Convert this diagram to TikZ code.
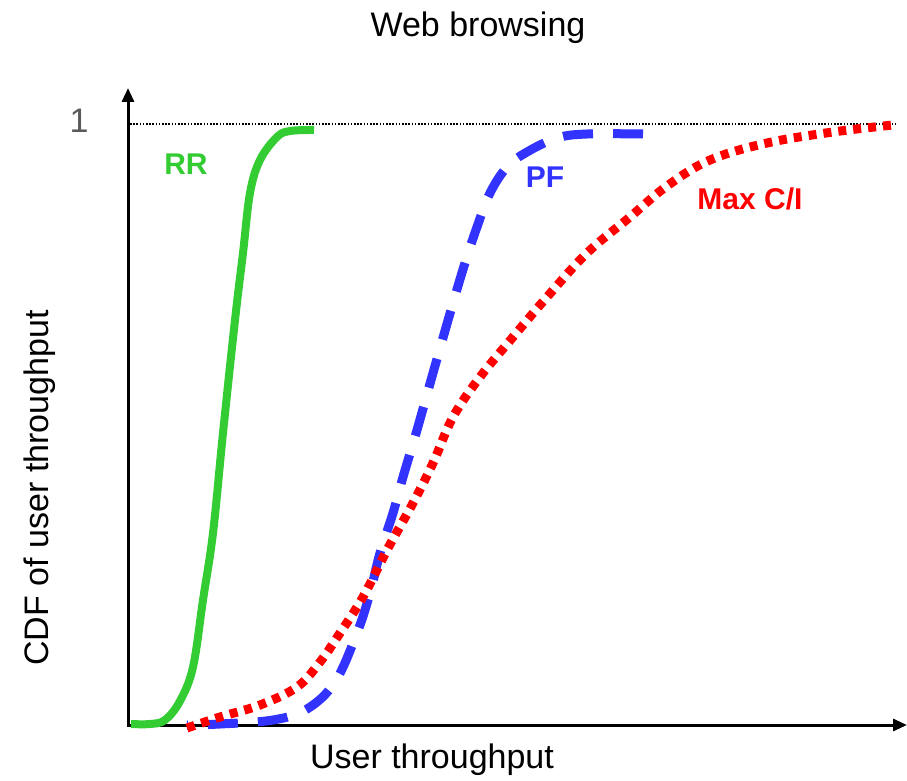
\documentclass[tikz,border=0pt]{standalone}
\usepackage{fontspec}
\setmainfont{Liberation Sans}
\usepackage{tikz}
\usetikzlibrary{arrows.meta,positioning}
\definecolor{rrgreen}{RGB}{51,204,51}
\definecolor{pfblue}{RGB}{51,51,255}
\definecolor{maxred}{RGB}{255,0,0}
\definecolor{tickgray}{RGB}{90,90,90}

\begin{document}
\begin{tikzpicture}[
		x=1pt, y=-1pt,
		>={Triangle[length=14pt,width=12pt]},
		font=\normalfont,
		axis/.style={
			line width=3pt,
			->
		},
		title/.style={
			font=\fontsize{34}{40}\selectfont,
			inner sep=0pt
		},
		curvename/.style={
			font=\fontsize{30}{36}\selectfont\bfseries,
			inner sep=0pt
		},
		rrline/.style={
			rrgreen, line width=8pt
		},
		pfline/.style={
			pfblue, line width=9pt, dash pattern=on 30pt off 20pt
		},
		maxline/.style={
			maxred, line width=9pt, dash pattern=on 8pt off 7pt
		}
		]
		\useasboundingbox (0,0) rectangle (907,781);
		
		% axes
		\coordinate (origin) at (128,725);
		\coordinate (ytop) at (128,88);
		\coordinate (xend) at (907,725);
		\coordinate (onestart) at (130,124);
		\coordinate (oneend) at (895,124);
		\draw [axis] ([xshift=-1.5pt]origin) -- (xend);
		\draw [axis] ([yshift=1.5pt]origin) -- (ytop);
		\draw [line width=1.5pt, dash pattern=on 1.6pt off 1.6pt] (onestart) -- (oneend);
		
		% texts
		\node [title] (title) at (478,28) {Web browsing};
		\node [title, text=tickgray] (one) at (79,121) {1};
		\node [title, rotate=90] (ylabel) at (40,488) {CDF of user throughput};
		\node [title] (xlabel) at (432,760) {User throughput};
		
		% the three CDF curves
		\draw [rrline] plot [smooth, tension=0.6] coordinates {
			(131,724) (150,724) (165,720) (180,701) (193,667) (203,600)
			(213,533) (223,433) (235,320) (243,253) (250,193) (260,160)
			(277,137) (290,131) (314,130)};
		
		% drawn from its top end, so the dashes start there
		\draw [pfline] plot [smooth, tension=0.6] coordinates {
			(643,134) (587,134) (557,138) (527,152) (507,167) (490,193)
			(477,227) (465,263) (453,303) (433,373) (417,430) (403,477)
			(393,513) (380,553) (370,593) (357,633) (335,682) (307,709)
			(273,720) (220,724) (187,725)};
		
		\draw [maxline] plot [smooth, tension=0.6] coordinates {
			(187,728) (220,717) (260,705) (297,687) (320,662) (340,633)
			(363,597) (387,550) (413,503) (433,463) (453,417) (480,377)
			(513,337) (547,297) (587,253) (630,217) (667,186) (710,160)
			(767,143) (833,132) (893,125)};
		
		% curve names
		\node [curvename, text=rrgreen] (rrname) at (186,164) {RR};
		\node [curvename, text=pfblue] (pfname) at (545,177) {PF};
		\node [curvename, text=maxred] (maxname) at (750,199) {Max C/I};
		
\end{tikzpicture}
\end{document}
